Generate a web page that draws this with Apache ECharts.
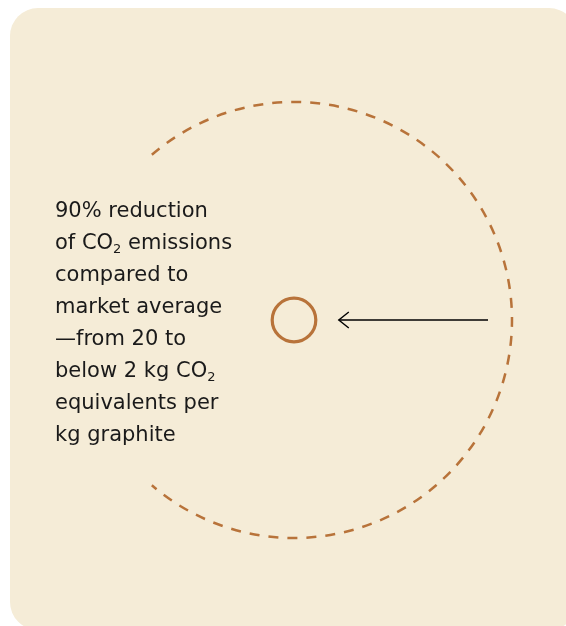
<!DOCTYPE html>
<html>
<head>
<meta charset="utf-8">
<script src="https://cdn.jsdelivr.net/npm/echarts@6/dist/echarts.min.js"></script>
<style>
  html, body { margin: 0; padding: 0; background: #ffffff; }
  #chart { width: 566px; height: 626px; }
</style>
</head>
<body>
<div id="chart"></div>
<script>
// Data: kg CO2 equivalents per kg graphite
const categories = ['Market average', 'Our graphite'];
const values = [20, 2];

const chart = echarts.init(document.getElementById('chart'), null, { renderer: 'canvas' });

const textLines = [
  '90% reduction',
  'of CO{sub|2} emissions',
  'compared to',
  'market average',
  '\u2014from ' + values[0] + ' to',
  'below ' + values[1] + ' kg CO{sub|2}',
  'equivalents per',
  'kg graphite'
];

const copper = '#b8733a';
const gapAngle = 130.7 * Math.PI / 180;

const option = {
  backgroundColor: '#ffffff',
  animation: false,
  grid: { left: 76, top: 102, width: 436, height: 436 },
  xAxis: { type: 'value', min: -20, max: 20, show: false },
  yAxis: { type: 'value', min: -20, max: 20, show: false },
  graphic: [
    {
      type: 'rect', z: -10, silent: true,
      shape: { x: 10, y: 8, width: 567, height: 622, r: 28 },
      style: { fill: '#f5ecd7' }
    },
    {
      type: 'text', left: 55, top: 196, z: 10,
      style: {
        text: textLines.join('\n'),
        font: '400 21px "DejaVu Sans", sans-serif',
        fill: '#1a1a1a',
        lineHeight: 32,
        rich: {
          sub: { fontSize: 13, fontFamily: 'DejaVu Sans', fill: '#1a1a1a', padding: [12, 0, 0, 0], lineHeight: 32 }
        }
      }
    }
  ],
  series: [{
    type: 'custom',
    coordinateSystem: 'cartesian2d',
    data: values.map((v, i) => ({ name: categories[i], value: [0, 0, v] })),
    renderItem: function (params, api) {
      const c = api.coord([0, 0]);
      const r = api.size([api.value(2), 0])[0];
      if (params.dataIndex === 0) {
        const rSmall = api.size([values[1], 0])[0];
        const x1 = c[0] + r - 24;
        const x2 = c[0] + rSmall + 23;
        return {
          type: 'group',
          children: [
            {
              type: 'arc',
              shape: { cx: c[0], cy: c[1], r: r, startAngle: -gapAngle, endAngle: gapAngle, clockwise: true },
              style: { stroke: copper, fill: null, lineWidth: 2.5, lineDash: [10, 9] }
            },
            {
              type: 'line',
              shape: { x1: x1, y1: c[1], x2: x2, y2: c[1] },
              style: { stroke: '#000000', lineWidth: 1.4 }
            },
            {
              type: 'polyline',
              shape: { points: [[x2 + 10, c[1] - 8], [x2, c[1]], [x2 + 10, c[1] + 8]] },
              style: { stroke: '#000000', lineWidth: 1.4, fill: null }
            }
          ]
        };
      }
      return {
        type: 'circle',
        shape: { cx: c[0], cy: c[1], r: r },
        style: { stroke: copper, fill: null, lineWidth: 3.2 }
      };
    }
  }]
};

chart.setOption(option);
</script>
</body>
</html>
